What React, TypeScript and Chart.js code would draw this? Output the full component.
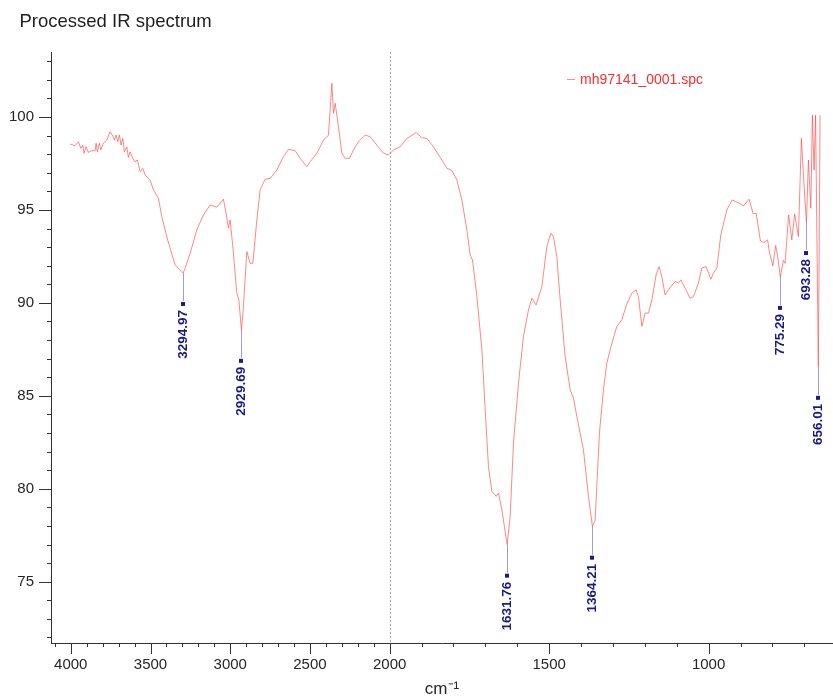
import React, { useEffect, useRef } from "react";
import { Chart, registerables } from "chart.js";

Chart.register(...registerables);

const CHART_TITLE = "Processed IR spectrum";
const SERIES_LABEL = "mh97141_0001.spc";
const X_TITLE = "cm⁻¹";

// wavenumber (cm-1) of the processed spectrum
const WAVENUMBERS = [
  4004.4, 3973.0, 3952.3, 3937.3, 3924.7, 3916.6, 3904.0, 3889.6, 3868.3, 3847.6,
  3841.3, 3833.1, 3820.6, 3811.8, 3795.5, 3774.2, 3753.4, 3736.5, 3726.5, 3715.8,
  3705.1, 3695.1, 3684.4, 3673.8, 3663.7, 3648.7, 3638.6, 3628.0, 3611.0, 3596.6,
  3582.2, 3565.2, 3548.3, 3533.9, 3513.2, 3502.5,
  3481.8, 3450.4, 3429.1, 3408.4, 3395.9, 3377.0, 3345.7, 3325.0, 3282.9,
  3251.6, 3209.5, 3168.1, 3126.1, 3084.1, 3042.7, 3025.7, 3011.3, 3000.6, 2983.7,
  2958.6, 2946.1, 2917.2, 2895.9, 2875.2, 2858.2, 2833.1, 2812.4, 2781.1, 2749.7,
  2707.7, 2666.3, 2634.9, 2592.9, 2561.5, 2519.5, 2498.8, 2456.7, 2415.3, 2383.9,
  2362.6, 2352.6, 2341.9, 2321.2, 2299.9, 2279.2, 2252.2, 2227.1, 2195.7, 2153.7,
  2122.3, 2080.3, 2038.9, 2007.5, 1988.1, 1967.1, 1946.1, 1916.9, 1899.1, 1883.4,
  1862.7, 1841.7, 1820.7, 1805.0, 1789.3, 1773.7, 1758.0, 1747.6, 1740.4, 1726.6,
  1710.9, 1700.6, 1690.3, 1679.6, 1666.1, 1658.9, 1648.3, 1622.3, 1611.9, 1596.2,
  1580.6, 1564.9, 1554.2, 1540.8, 1522.9, 1507.2, 1494.7, 1486.5, 1475.9, 1465.5,
  1449.8, 1434.2, 1423.8, 1413.2, 1392.5, 1376.8, 1355.8, 1342.3, 1329.8, 1319.1,
  1303.4, 1287.8, 1272.1, 1256.4, 1240.7, 1227.3, 1220.0, 1209.4, 1199.1, 1188.7,
  1178.0, 1164.6, 1155.2, 1146.7, 1136.4, 1126.0, 1105.0, 1094.7, 1087.1, 1073.7,
  1058.0, 1047.6, 1032.0, 1021.3, 1007.8, 993.1, 985.0, 974.3, 961.8, 942.9,
  926.3, 906.6, 890.9, 873.0, 860.5, 851.1, 837.6, 826.0, 815.1, 809.4,
  798.7, 789.8, 783.1, 765.5, 760.2, 749.2, 739.2, 730.4, 718.5, 709.1,
  700.6, 687.1, 679.6, 674.6, 669.3, 664.6, 650.5,
];

// transmittance (%) at each wavenumber
const TRANSMITTANCE = [
  98.55, 98.46, 98.67, 98.32, 98.49, 98.05, 98.4, 98.1, 98.19, 98.19,
  98.59, 98.13, 98.59, 98.23, 98.59, 98.76, 99.21, 98.98, 98.76, 99.03,
  98.67, 99.03, 98.49, 98.85, 98.13, 98.4, 97.83, 98.13, 97.78, 97.6,
  97.69, 97.06, 97.24, 96.88, 96.7, 96.61,
  96.08, 95.63, 94.64, 93.93, 93.5, 92.94, 92.04, 91.87, 91.87,
  92.67, 93.93, 94.73, 95.27, 95.15, 95.58, 94.82, 94.02, 94.46, 93.03,
  90.52, 90.16, 89.8, 92.76, 92.13, 92.13, 94.46, 96.08, 96.65, 96.7,
  97.15, 97.87, 98.26, 98.19, 97.78, 97.33, 97.6, 98.05, 98.76, 99.03,
  101.81, 100.2, 100.74, 99.48, 98.05, 97.78, 97.78, 98.23, 98.67, 99.03,
  98.94, 98.49, 98.05, 97.96, 98.23, 98.4, 98.85, 99.16, 98.89, 98.85,
  98.4, 97.83, 97.24, 97.13, 96.61, 95.54, 93.93, 92.58, 92.31, 90.34,
  87.47, 84.25, 81.2, 79.86, 79.59, 79.77, 78.87, 78.51, 82.46, 85.68,
  88.19, 89.62, 90.25, 89.89, 90.88, 93.03, 93.75, 93.56, 92.49, 90.16,
  87.11, 85.32, 84.88, 83.89, 82.1, 79.59, 78.33, 83.0, 85.32, 86.76,
  87.83, 88.73, 89.09, 89.95, 90.52, 90.7, 90.34, 88.73, 89.45, 89.45,
  90.16, 91.51, 91.95, 91.41, 90.43, 90.7, 91.15, 91.06, 91.24, 90.79,
  90.25, 90.34, 91.06, 91.87, 91.95, 91.27, 91.6, 91.87, 93.66, 95.0,
  95.54, 95.39, 95.22, 95.58, 94.79, 94.84, 93.33, 93.25, 93.39, 92.74,
  91.99, 93.09, 92.47, 92.29, 92.13, 94.73, 93.39, 94.79, 93.56, 98.85,
  96.25, 97.69, 95.09, 100.1, 97.15, 100.1, 100.1,
];

// labelled peaks
const PEAK_WAVENUMBERS = [3294.97, 2929.69, 1631.76, 1364.21, 775.29, 693.28, 656.01];
const PEAK_TRANSMITTANCE = [91.61, 88.55, 76.99, 77.96, 91.4, 94.35, 86.56];

// axis ticks
const X_TICKS = [
  4100, 4000, 3900, 3800, 3700, 3600, 3500, 3400, 3300, 3200, 3100, 3000, 2900, 2800,
  2700, 2600, 2500, 2400, 2300, 2200, 2100, 2000, 1900, 1800, 1700, 1600, 1500, 1400,
  1300, 1200, 1100, 1000, 900, 800, 700,
];
const X_LABELLED = [4000, 3500, 3000, 2500, 2000, 1500, 1000];
const Y_TICKS = [
  72, 73, 74, 75, 76, 77, 78, 79, 80, 81, 82, 83, 84, 85, 86, 87, 88, 89, 90, 91, 92,
  93, 94, 95, 96, 97, 98, 99, 100, 101, 102, 103,
];
const Y_LABELLED = [75, 80, 85, 90, 95, 100];

// axis range and compression above the break (wavenumbers above 2000 drawn at half scale)
const X_RANGE = [610, 4124];
const Y_RANGE = [71.7, 103.5];
const X_BREAK = 2000;
const X_COMPRESSION = 2;

const FONT = '"Liberation Sans", Arial, Helvetica, sans-serif';
const NAVY = "#1b1b86";

const toAxis = (w: number) => (w > X_BREAK ? X_BREAK + (w - X_BREAK) / X_COMPRESSION : w);
const fromAxis = (u: number) => (u > X_BREAK ? X_BREAK + (u - X_BREAK) * X_COMPRESSION : u);

const decorPlugin = {
  id: "irDecor",
  beforeDatasetsDraw(chart: any) {
    const { ctx, chartArea, scales } = chart;
    const x = Math.round(scales.x.getPixelForValue(toAxis(X_BREAK))) + 0.5;
    ctx.save();
    ctx.strokeStyle = "#a8a8a8";
    ctx.lineWidth = 1;
    ctx.setLineDash([2, 2]);
    ctx.beginPath();
    ctx.moveTo(x, chartArea.top);
    ctx.lineTo(x, chartArea.bottom);
    ctx.stroke();
    ctx.restore();
  },
  afterDraw(chart: any) {
    const { ctx, chartArea, scales } = chart;
    const xs = scales.x;
    const ys = scales.y;
    ctx.save();

    // chart title
    ctx.fillStyle = "#1e1e1e";
    ctx.font = `18.5px ${FONT}`;
    ctx.textAlign = "left";
    ctx.textBaseline = "alphabetic";
    ctx.fillText(CHART_TITLE, 19.5, 27);

    // tick marks (major and minor)
    ctx.strokeStyle = "#333";
    ctx.lineWidth = 1;
    ctx.beginPath();
    xs.ticks.forEach((t: any) => {
      const w = Math.round(fromAxis(t.value));
      const len = X_LABELLED.includes(w) ? 11 : 4;
      const p = Math.round(xs.getPixelForValue(t.value)) + 0.5;
      ctx.moveTo(p, chartArea.bottom);
      ctx.lineTo(p, chartArea.bottom + len);
    });
    ys.ticks.forEach((t: any) => {
      const len = Y_LABELLED.includes(t.value) ? 12 : 4;
      const p = Math.round(ys.getPixelForValue(t.value)) + 0.5;
      ctx.moveTo(chartArea.left - len, p);
      ctx.lineTo(chartArea.left, p);
    });
    ctx.stroke();

    // legend
    const lx = chartArea.left + 516;
    const ly = chartArea.top + 27.5;
    ctx.strokeStyle = "rgba(255,90,90,0.7)";
    ctx.beginPath();
    ctx.moveTo(lx, ly);
    ctx.lineTo(lx + 8, ly);
    ctx.stroke();
    ctx.fillStyle = "#ff2b2b";
    ctx.font = `14px ${FONT}`;
    ctx.textBaseline = "middle";
    ctx.fillText(chart.data.datasets[0].label, lx + 13, ly + 1);

    // peak annotations
    PEAK_WAVENUMBERS.forEach((w, i) => {
      const px = Math.round(xs.getPixelForValue(toAxis(w))) + 0.5;
      const py = ys.getPixelForValue(PEAK_TRANSMITTANCE[i]);
      ctx.strokeStyle = "rgba(40,40,160,0.45)";
      ctx.beginPath();
      ctx.moveTo(px, py);
      ctx.lineTo(px, py + 28);
      ctx.stroke();
      ctx.fillStyle = NAVY;
      ctx.fillRect(px - 2.5, py + 29, 4, 4);
      ctx.save();
      ctx.translate(px, py + 37);
      ctx.rotate(-Math.PI / 2);
      ctx.font = `bold 13.5px ${FONT}`;
      ctx.textAlign = "right";
      ctx.textBaseline = "middle";
      ctx.fillText(w.toFixed(2), 0, 0);
      ctx.restore();
    });

    ctx.restore();
  },
};

export default function App() {
  const ref = useRef<HTMLCanvasElement>(null);

  useEffect(() => {
    const points = WAVENUMBERS.map((w, i) => ({ w, t: TRANSMITTANCE[i] }))
      .concat(PEAK_WAVENUMBERS.map((w, i) => ({ w, t: PEAK_TRANSMITTANCE[i] })))
      .sort((a, b) => b.w - a.w)
      .map((p) => ({ x: toAxis(p.w), y: p.t }));

    const chart = new Chart(ref.current as HTMLCanvasElement, {
      type: "scatter",
      data: {
        datasets: [
          {
            label: SERIES_LABEL,
            data: points,
            showLine: true,
            borderColor: "rgba(255,70,70,0.65)",
            borderWidth: 1,
            pointRadius: 0,
            tension: 0,
          },
        ],
      },
      options: {
        responsive: false,
        animation: false,
        events: [],
        layout: { padding: { top: 52, left: 0, right: 0, bottom: 0 } },
        plugins: {
          legend: { display: false },
          title: { display: false },
          tooltip: { enabled: false },
        },
        scales: {
          x: {
            type: "linear",
            reverse: true,
            bounds: "data",
            min: toAxis(X_RANGE[0]),
            max: toAxis(X_RANGE[1]),
            afterBuildTicks: (s: any) => {
              s.ticks = X_TICKS.map((w) => ({ value: toAxis(w) }));
            },
            afterFit: (s: any) => {
              s.height = 57;
            },
            grid: { display: true, drawOnChartArea: false, drawTicks: false },
            border: { display: true, color: "#333", width: 1 },
            ticks: {
              autoSkip: false,
              maxRotation: 0,
              minRotation: 0,
              padding: 13,
              color: "#262626",
              font: { family: FONT, size: 15 },
              callback: (v: any) => {
                const w = Math.round(fromAxis(Number(v)));
                return X_LABELLED.includes(w) ? String(w) : "";
              },
            },
            title: {
              display: true,
              text: X_TITLE,
              color: "#262626",
              font: { family: FONT, size: 17 },
              padding: { top: 0, bottom: 0 },
            },
          },
          y: {
            type: "linear",
            bounds: "data",
            min: Y_RANGE[0],
            max: Y_RANGE[1],
            afterBuildTicks: (s: any) => {
              s.ticks = Y_TICKS.map((v) => ({ value: v }));
            },
            afterFit: (s: any) => {
              s.width = 51;
            },
            grid: { display: true, drawOnChartArea: false, drawTicks: false },
            border: { display: true, color: "#333", width: 1 },
            ticks: {
              autoSkip: false,
              padding: 17,
              color: "#262626",
              font: { family: FONT, size: 15 },
              callback: (v: any) => (Y_LABELLED.includes(Number(v)) ? String(v) : ""),
            },
          },
        },
      },
      plugins: [decorPlugin],
    } as any);

    return () => chart.destroy();
  }, []);

  return (
    <div
      style={{
        position: "absolute",
        left: 0,
        top: 0,
        width: 833,
        height: 700,
        background: "#fff",
        overflow: "hidden",
      }}
    >
      <canvas ref={ref} width={833} height={700} style={{ display: "block", width: 833, height: 700 }} />
    </div>
  );
}
